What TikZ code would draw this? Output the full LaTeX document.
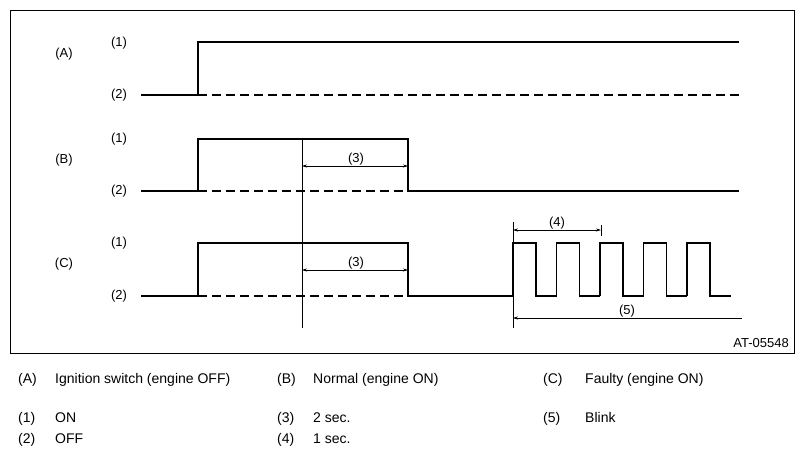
\documentclass[tikz,border=0pt]{standalone}
\usepackage{fontspec}
\setmainfont{Liberation Sans}
\usetikzlibrary{arrows.meta,calc}

\tikzset{
  signal/.style={line width=1.6pt},
  offlevel/.style={line width=1.6pt, dash pattern=on 9pt off 5pt},
  dimline/.style={line width=0.6pt},
  dimarrow/.style={line width=0.6pt, {Stealth[length=5pt,width=3pt]}-{Stealth[length=5pt,width=3pt]}},
  tag/.style={inner sep=0pt, text height=9pt, text depth=2.5pt, font=\fontsize{13}{13}\selectfont},
  legend/.style={inner sep=0pt, anchor=base west, font=\fontsize{14}{14}\selectfont}
}

\begin{document}
\begin{tikzpicture}[x=1pt,y=-1pt]
  \useasboundingbox (0,0) rectangle (804,455);
  \draw[line width=1pt] (10,10) rectangle (794,353);

  % row labels
  \node[tag] (rowA) at (64,54) {(A)};
  \node[tag] (rowB) at (64,160) {(B)};
  \node[tag] (rowC) at (64,264) {(C)};
  \foreach \r/\hi/\lo in {A/43/95, B/139/191, C/243/296}{
    \node[tag] (on\r) at (119,\hi) {(1)};
    \node[tag] (off\r) at (119,\lo) {(2)};
  }

  % (A) ignition switch
  \draw[signal] (141,95) -- (198,95) -- (198,42) -- (739,42);
  \draw[offlevel] (198,95) -- (739,95);

  % (B) normal
  \draw[signal] (141,191) -- (198,191) -- (198,139) -- (408,139) -- (408,191) -- (739,191);
  \draw[offlevel] (198,191) -- (408,191);

  % (C) faulty
  \draw[signal] (141,296) -- (198,296) -- (198,243) -- (408,243) -- (408,296) -- (513,296);
  \draw[offlevel] (198,296) -- (408,296);
  \foreach \k in {0,...,4}{
    \draw[signal] ({513+43.5*\k},296) -- ({513+43.5*\k},243) -- ({536+43.5*\k},243)
      -- ({536+43.5*\k},296) -- ({556.5+43.5*\k},296);
  }
  \draw[signal] (710,296) -- (730,296);

  % time marks
  \coordinate (start) at (302,139);
  \coordinate (startend) at (302,328);
  \draw[dimline] (start) -- (startend);
  \coordinate (b3l) at (302,166);
  \coordinate (b3r) at (408,166);
  \draw[dimarrow] (b3l) -- (b3r);
  \node[tag] (twoB) at (356,159) {(3)};
  \coordinate (c3l) at (302,270);
  \coordinate (c3r) at (408,270);
  \draw[dimarrow] (c3l) -- (c3r);
  \node[tag] (twoC) at (356,263) {(3)};

  \coordinate (blinktop) at (513,222);
  \coordinate (blinkbot) at (513,328);
  \draw[dimline] (blinktop) -- (blinkbot);
  \coordinate (sectop) at (601,225);
  \coordinate (secbot) at (601,236);
  \draw[dimline] (sectop) -- (secbot);
  \coordinate (s4l) at (513,230);
  \coordinate (s4r) at (601,230);
  \draw[dimarrow] (s4l) -- (s4r);
  \node[tag] (oneC) at (557,223) {(4)};
  \coordinate (s5l) at (513,318);
  \coordinate (s5r) at (742,318);
  \draw[dimline, {Stealth[length=5pt,width=3pt]}-] (s5l) -- (s5r);
  \node[tag] (blinkC) at (627,311) {(5)};

  \node[tag, anchor=east] (code) at (789,344) {AT-05548};

  % legend
  \node[legend] (kA) at (18,383) {(A)};
  \node[legend] (tA) at (55,383) {Ignition switch (engine OFF)};
  \node[legend] (kB) at (277,383) {(B)};
  \node[legend] (tB) at (313,383) {Normal (engine ON)};
  \node[legend] (kC) at (543,383) {(C)};
  \node[legend] (tC) at (585,383) {Faulty (engine ON)};
  \node[legend] (k1) at (18,422) {(1)};
  \node[legend] (t1) at (55,422) {ON};
  \node[legend] (k2) at (18,443) {(2)};
  \node[legend] (t2) at (55,443) {OFF};
  \node[legend] (k3) at (277,422) {(3)};
  \node[legend] (t3) at (313,422) {2 sec.};
  \node[legend] (k4) at (277,443) {(4)};
  \node[legend] (t4) at (313,443) {1 sec.};
  \node[legend] (k5) at (543,422) {(5)};
  \node[legend] (t5) at (585,422) {Blink};
\end{tikzpicture}
\end{document}
